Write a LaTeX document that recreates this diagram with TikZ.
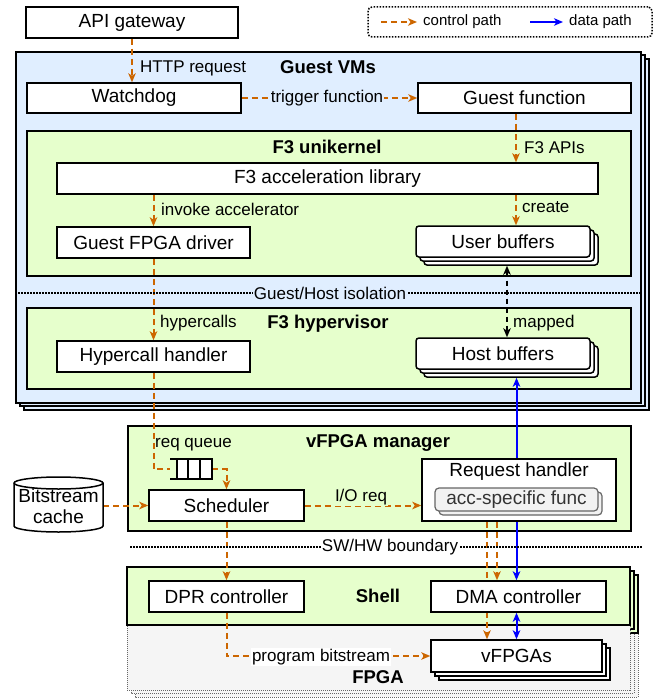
\documentclass[tikz,border=0pt]{standalone}
\usepackage{fontspec}
\setmainfont{Liberation Sans}
\usetikzlibrary{arrows.meta,shadows,calc}

\definecolor{ctrl}{RGB}{204,102,0}
\definecolor{datablue}{RGB}{0,0,255}
\definecolor{vmblue}{RGB}{224,238,255}
\definecolor{layergreen}{RGB}{230,255,204}
\definecolor{fpgagray}{RGB}{245,245,245}
\definecolor{framegray}{RGB}{102,102,102}
\definecolor{accgray}{RGB}{242,242,242}
\definecolor{acctext}{RGB}{51,51,51}

\pgfdeclarelayer{back}
\pgfdeclarelayer{wires}
\pgfsetlayers{back,wires,main}

\newcommand\fBox{\fontsize{19}{21}\selectfont}
\newcommand\fLbl{\fontsize{17}{19}\selectfont}
\newcommand\fTtl{\fontsize{18.5}{20}\selectfont\bfseries}
\newcommand\fLeg{\fontsize{15}{17}\selectfont}

\tikzset{
  block/.style={draw=black, line width=1.5pt, fill=white, inner sep=0pt, font=\fBox},
  region/.style={draw=black, line width=1.5pt, inner sep=0pt},
  stackbox/.style={block,
    copy shadow={shadow xshift=8pt, shadow yshift=-8pt, fill=white, draw=black, line width=1.5pt},
    copy shadow={shadow xshift=4pt, shadow yshift=-4pt, fill=white, draw=black, line width=1.5pt}},
  bufstack/.style={stackbox, rounded corners=3pt},
  accbox/.style={draw=framegray, line width=1.2pt, fill=accgray, rounded corners=4pt,
    inner sep=0pt, font=\fBox, text=acctext,
    copy shadow={shadow xshift=4pt, shadow yshift=-4pt, fill=accgray, draw=framegray, line width=1.2pt}},
  fpgaframe/.style={draw=framegray, line width=1pt, dash pattern=on 1pt off 1pt, fill=fpgagray, inner sep=0pt},
  shellcopy/.style={draw=black, line width=1.5pt, fill=layergreen},
  ctrlline/.style={draw=ctrl, line width=2pt, dash pattern=on 6pt off 4pt},
  ctrlarrow/.style={ctrlline, -{Stealth[length=9pt,width=7.5pt,inset=2.5pt]}},
  dataarrow/.style={draw=datablue, line width=2pt, -{Stealth[length=9pt,width=7.5pt,inset=2.5pt]}},
  datadouble/.style={draw=datablue, line width=2pt,
    {Stealth[length=9pt,width=7.5pt,inset=2.5pt]}-{Stealth[length=9pt,width=7.5pt,inset=2.5pt]}},
  mapline/.style={draw=black, line width=2pt, dash pattern=on 5pt off 4pt,
    {Stealth[length=9pt,width=7.5pt,inset=2.5pt]}-{Stealth[length=9pt,width=7.5pt,inset=2.5pt]}},
  divider/.style={draw=black, line width=1.5pt, dash pattern=on 1.5pt off 1.5pt},
  lbl/.style={font=\fLbl, inner sep=1pt},
  title/.style={font=\fTtl, inner sep=0pt},
}

\begin{document}
\begin{tikzpicture}[x=1pt, y=-1pt]
\useasboundingbox (0,0) rectangle (654,698);

% ---------- legend ----------
\node[draw=black, line width=1.5pt, dash pattern=on 1.5pt off 1.5pt, rounded corners=4pt,
      minimum width=284, minimum height=30, inner sep=0pt] (legend) at (510,22) {};
\coordinate (lc1) at (381,22);
\coordinate (lc2) at (417,22);
\draw[ctrlarrow] (lc1) -- (lc2);
\node[font=\fLeg, anchor=west, inner sep=0pt] (lgc) at (423,22) {control path};
\coordinate (ld1) at (530,22);
\coordinate (ld2) at (563,22);
\draw[dataarrow] (ld1) -- (ld2);
\node[font=\fLeg, anchor=west, inner sep=0pt] (lgd) at (569,22) {data path};

% ---------- containers ----------
\begin{pgfonlayer}{back}
\node[region, fill=vmblue, minimum width=625, minimum height=351,
  copy shadow={shadow xshift=8pt, shadow yshift=-7pt, fill=vmblue, draw=black, line width=1.5pt},
  copy shadow={shadow xshift=4pt, shadow yshift=-3pt, fill=vmblue, draw=black, line width=1.5pt}]
  (vms) at (328.5,227.5) {};
\node[region, fill=layergreen, minimum width=604, minimum height=145] (uk) at (329,203.5) {};
\node[region, fill=layergreen, minimum width=604, minimum height=81] (hv) at (329,348.5) {};
\node[region, fill=layergreen, minimum width=503, minimum height=105] (mgr) at (379.5,478.5) {};
% FPGA and Shell stacks
\path[fpgaframe] (135,574) rectangle (638,697);
\path[fpgaframe] (131,570) rectangle (634,693);
\path[shellcopy] (135,575) rectangle (638,633);
\path[shellcopy] (131,571) rectangle (634,629);
\node[fpgaframe, minimum width=503, minimum height=123] (fpga) at (378.5,628.5) {};
\node[region, fill=layergreen, minimum width=503, minimum height=58] (shell) at (378.5,596) {};
\end{pgfonlayer}

% ---------- boundaries ----------
\coordinate (isoY) at (0,293);
\draw[divider] (vms.west |- isoY) -- (vms.east |- isoY);
\node[lbl, fill=vmblue] (iso) at (330,293) {Guest/Host isolation};
\coordinate (hwL) at (130,547);
\coordinate (hwR) at (642,547);
\draw[divider] (hwL) -- (hwR);
\node[lbl, fill=white] (hwlbl) at (390,547) {SW/HW boundary};

% ---------- titles ----------
\node[title] (tvms) at (328,67) {Guest VMs};
\node[title] (tuk) at (327,147) {F3 unikernel};
\node[title] (thv) at (328,324) {F3 hypervisor};
\node[title] (tmgr) at (378,443) {vFPGA manager};
\node[title] (tshell) at (378,596) {Shell};
\node[title] (tfpga) at (378,677) {FPGA};

% ---------- components ----------
\node[block, minimum width=212, minimum height=31] (api) at (132,22.5) {API gateway};
\node[block, minimum width=214, minimum height=30] (wd) at (134,98) {Watchdog};
\node[block, minimum width=213, minimum height=30] (gf) at (524.5,98) {Guest function};
\node[block, minimum width=541, minimum height=31] (lib) at (327.5,178.5) {F3 acceleration library};
\node[block, minimum width=193, minimum height=31] (drv) at (153.5,242.5) {Guest FPGA driver};
\node[bufstack, minimum width=174, minimum height=31] (ubuf) at (503,241.5) {User buffers};
\node[block, minimum width=193, minimum height=31] (hch) at (153.5,356.5) {Hypercall handler};
\node[bufstack, minimum width=174, minimum height=31] (hbuf) at (503,353.5) {Host buffers};
\node[block, minimum width=155, minimum height=31] (sch) at (226.5,505.5) {Scheduler};
\node[block, minimum width=194, minimum height=62] (rh) at (519,490) {};
\node[font=\fBox, inner sep=0pt] (rhtitle) at (519,472) {Request handler};
\node[accbox, minimum width=163, minimum height=23] (acc) at (516.5,499.5) {acc-specific func};
\node[block, minimum width=155, minimum height=31] (dpr) at (226.5,596.5) {DPR controller};
\node[block, minimum width=175, minimum height=31] (dma) at (518.5,596.5) {DMA controller};
\node[stackbox, minimum width=171, minimum height=32] (vf) at (516.5,656) {vFPGAs};

% bitstream cache (cylinder)
\draw[line width=1.5pt, fill=white]
  (14,483) -- (14,526)
  .. controls (14,529.3) and (34.9,532) .. (58.5,532)
  .. controls (82.1,532) and (103,529.3) .. (103,526)
  -- (103,483)
  .. controls (103,479.7) and (82.1,477) .. (58.5,477)
  .. controls (34.9,477) and (14,479.7) .. (14,483) -- cycle;
\draw[line width=1.5pt]
  (14,483) .. controls (14,486.3) and (34.9,489) .. (58.5,489)
  .. controls (82.1,489) and (103,486.3) .. (103,483);
\node[font=\fBox, align=center, inner sep=0pt, minimum width=89, minimum height=55] (cache) at (58.5,506) {Bitstream\\cache};

% request queue
\node[inner sep=0pt, minimum width=42, minimum height=20] (queue) at (191,469) {};
\draw[line width=1.5pt, fill=white] (177,459) rectangle (212,479);
\draw[line width=1.5pt] (170,459) -- (177,459) (170,479) -- (177,479)
  (188,459) -- (188,479) (200,459) -- (200,479);

% ---------- connectors ----------
\coordinate (colR) at (516,0);
\coordinate (colM) at (507,0);
\coordinate (colD) at (516.5,0);
\coordinate (colA) at (487,0);
\coordinate (colB) at (497,0);
\begin{pgfonlayer}{wires}
\draw[ctrlarrow] (api.south) -- (api.south |- wd.north);
\draw[ctrlarrow] (wd.east) -- (gf.west);
\draw[ctrlarrow] (gf.south -| colR) -- (lib.north -| colR);
\draw[ctrlarrow] (lib.south -| drv.north) -- (drv.north);
\draw[ctrlarrow] (lib.south -| colR) -- (ubuf.north -| colR);
\draw[ctrlarrow] (drv.south) -- (hch.north);
\draw[mapline] ($(ubuf.south -| colM)+(0,8)$) -- (hbuf.north -| colM);
\draw[datadouble] ($(hbuf.south -| colD)+(0,8)$) -- (dma.north -| colD);
\draw[datadouble] (dma.south -| colD) -- (vf.north -| colD);
\draw[ctrlline] (hch.south) |- (queue.west);
\draw[ctrlarrow] (queue.east) -| (sch.north);
\draw[ctrlarrow] (cache.east |- sch.west) -- (sch.west);
\draw[ctrlarrow] (sch.east) -- (sch.east -| rh.west);
\draw[ctrlarrow] (rh.south -| colA) -- (vf.north -| colA);
\draw[ctrlarrow] (rh.south -| colB) -- (dma.north -| colB);
\draw[ctrlarrow] (sch.south) -- (dpr.north);
\draw[ctrlarrow] (dpr.south) |- (vf.west);
\end{pgfonlayer}

% ---------- connector labels ----------
\node[lbl, anchor=west] (lhttp) at (139,68) {HTTP request};
\node[lbl, fill=vmblue] (ltrig) at (327,98) {trigger function};
\node[lbl, anchor=west] (lapi) at (523,148) {F3 APIs};
\node[lbl, anchor=west] (linv) at (160,209) {invoke accelerator};
\node[lbl, anchor=west] (lcreate) at (521,207) {create};
\node[lbl, anchor=west] (lhyp) at (159,323) {hypercalls};
\node[lbl, anchor=west] (lmap) at (512,323) {mapped};
\node[lbl, anchor=west] (lreq) at (154,445) {req queue};
\node[lbl, fill=layergreen] (lio) at (361,497) {I/O req};
\node[lbl, fill=white] (lprog) at (321,657) {program bitstream};
\end{tikzpicture}
\end{document}
